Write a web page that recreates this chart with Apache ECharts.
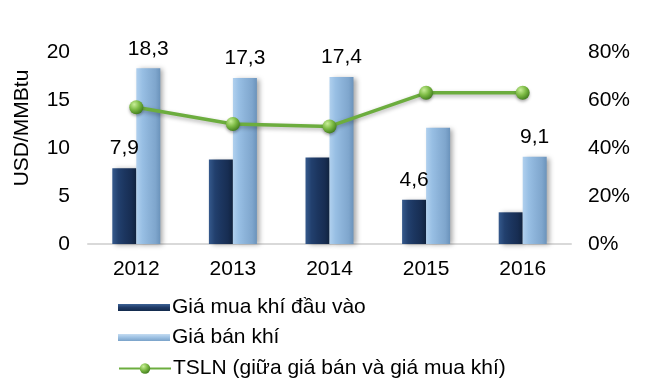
<!DOCTYPE html>
<html>
<head>
<meta charset="utf-8">
<script src="https://cdn.jsdelivr.net/npm/echarts@6/dist/echarts.min.js"></script>
<style>
  html, body { margin: 0; padding: 0; background: #ffffff; }
  #chart { width: 645px; height: 378px; }
</style>
</head>
<body>
<div id="chart"></div>
<script>
// Years on the category axis
const years = ['2012', '2013', '2014', '2015', '2016'];
// Input gas purchase price (USD/MMBtu)
const buyPrice = [7.9, 8.8, 9.0, 4.6, 3.3];
// Gas selling price (USD/MMBtu)
const sellPrice = [18.3, 17.3, 17.4, 12.1, 9.1];
// Margin between selling and buying price (%)
const margin = [57, 50, 49, 63, 63];
// Which bars carry a value label
const buyLabelled = [true, false, false, true, false];
const sellLabelled = [true, true, true, false, true];

const NAME_BUY = 'Giá mua khí đầu vào';
const NAME_SELL = 'Giá bán khí';
const NAME_MARGIN = 'TSLN (giữa giá bán và giá mua khí)';

const FONT = '"Liberation Sans", Arial, sans-serif';
const FS = 21;
const comma = v => String(v).replace('.', ',');

const darkFill = new echarts.graphic.LinearGradient(0, 0, 1, 0, [
  { offset: 0, color: '#35598c' },
  { offset: 0.25, color: '#22406e' },
  { offset: 0.5, color: '#1c3660' },
  { offset: 0.8, color: '#172d52' },
  { offset: 1, color: '#10233f' }
]);
const lightFill = new echarts.graphic.LinearGradient(0, 0, 1, 0, [
  { offset: 0, color: '#b0d0ee' },
  { offset: 0.25, color: '#98bfe4' },
  { offset: 0.5, color: '#8cb3d9' },
  { offset: 0.8, color: '#7fa6cd' },
  { offset: 1, color: '#6b93bb' }
]);
const ballFill = new echarts.graphic.RadialGradient(0.35, 0.3, 0.75, [
  { offset: 0, color: '#c8ee98' },
  { offset: 0.5, color: '#7dbb45' },
  { offset: 1, color: '#3f7a1c' }
]);
const legendIconFill = (c1, c2, c3) => new echarts.graphic.LinearGradient(0, 0, 0, 1, [
  { offset: 0, color: c1 },
  { offset: 0.5, color: c2 },
  { offset: 1, color: c3 }
]);

const labelStyle = {
  position: 'top',
  distance: 9,
  color: '#000',
  fontSize: FS,
  fontFamily: FONT,
  formatter: p => comma(p.value)
};

const barShadow = {
  shadowColor: 'rgba(0,0,0,0.35)',
  shadowBlur: 5,
  shadowOffsetX: 3,
  shadowOffsetY: 1
};

function barData(values, flags) {
  return values.map((v, i) => ({ value: v, label: { show: flags[i] } }));
}

const legendText = { fontSize: FS, color: '#000', fontFamily: FONT, padding: [0, 0, 0, -3] };

const chart = echarts.init(document.getElementById('chart'));
chart.setOption({
  animation: false,
  textStyle: { fontFamily: FONT },
  grid: { left: 88, right: 74, top: 52, bottom: 134 },
  legend: [
    {
      orient: 'vertical',
      left: 113,
      top: 292,
      itemWidth: 52,
      itemHeight: 7,
      itemGap: 9,
      textStyle: legendText,
      data: [
        { name: NAME_BUY, icon: 'rect',
          itemStyle: { color: legendIconFill('#3d6296', '#1f3a66', '#132a4c') } },
        { name: NAME_SELL, icon: 'rect',
          itemStyle: { color: legendIconFill('#c4dcf2', '#9cc0e2', '#7aa2c9') } }
      ]
    },
    {
      orient: 'vertical',
      left: 113,
      top: 353,
      itemWidth: 52,
      itemHeight: 13,
      textStyle: legendText,
      data: [{ name: NAME_MARGIN }]
    }
  ],
  xAxis: {
    type: 'category',
    data: years,
    axisLine: { lineStyle: { color: '#d9d9d9', width: 2 } },
    axisTick: { show: false },
    axisLabel: { color: '#000', fontSize: FS, margin: 15, fontFamily: FONT }
  },
  yAxis: [
    {
      type: 'value',
      min: 0, max: 20, interval: 5,
      name: 'USD/MMBtu',
      nameLocation: 'middle',
      nameGap: 55,
      nameRotate: 90,
      nameTextStyle: { color: '#000', fontSize: FS, fontFamily: FONT, padding: [0, 0, 0, 40] },
      splitLine: { show: false },
      axisLine: { show: false },
      axisTick: { show: false },
      axisLabel: { color: '#000', fontSize: FS, margin: 18, fontFamily: FONT }
    },
    {
      type: 'value',
      min: 0, max: 80, interval: 20,
      splitLine: { show: false },
      axisLine: { show: false },
      axisTick: { show: false },
      axisLabel: { color: '#000', fontSize: FS, margin: 17, fontFamily: FONT, formatter: '{value}%' }
    }
  ],
  series: [
    {
      name: NAME_BUY,
      type: 'bar',
      barWidth: 24,
      barGap: '0%',
      data: barData(buyPrice, buyLabelled),
      label: labelStyle,
      itemStyle: Object.assign({ color: darkFill }, barShadow)
    },
    {
      name: NAME_SELL,
      type: 'bar',
      barWidth: 24,
      data: barData(sellPrice, sellLabelled),
      label: labelStyle,
      itemStyle: Object.assign({ color: lightFill }, barShadow)
    },
    {
      name: NAME_MARGIN,
      type: 'line',
      yAxisIndex: 1,
      data: margin,
      symbol: 'circle',
      symbolSize: 14,
      lineStyle: {
        color: '#6cad3e',
        width: 3.5,
        shadowColor: 'rgba(0,0,0,0.3)',
        shadowBlur: 4,
        shadowOffsetY: 2
      },
      itemStyle: {
        color: ballFill,
        borderWidth: 0,
        shadowColor: 'rgba(0,0,0,0.3)',
        shadowBlur: 3,
        shadowOffsetY: 2
      },
      z: 5
    }
  ]
});
</script>
</body>
</html>
